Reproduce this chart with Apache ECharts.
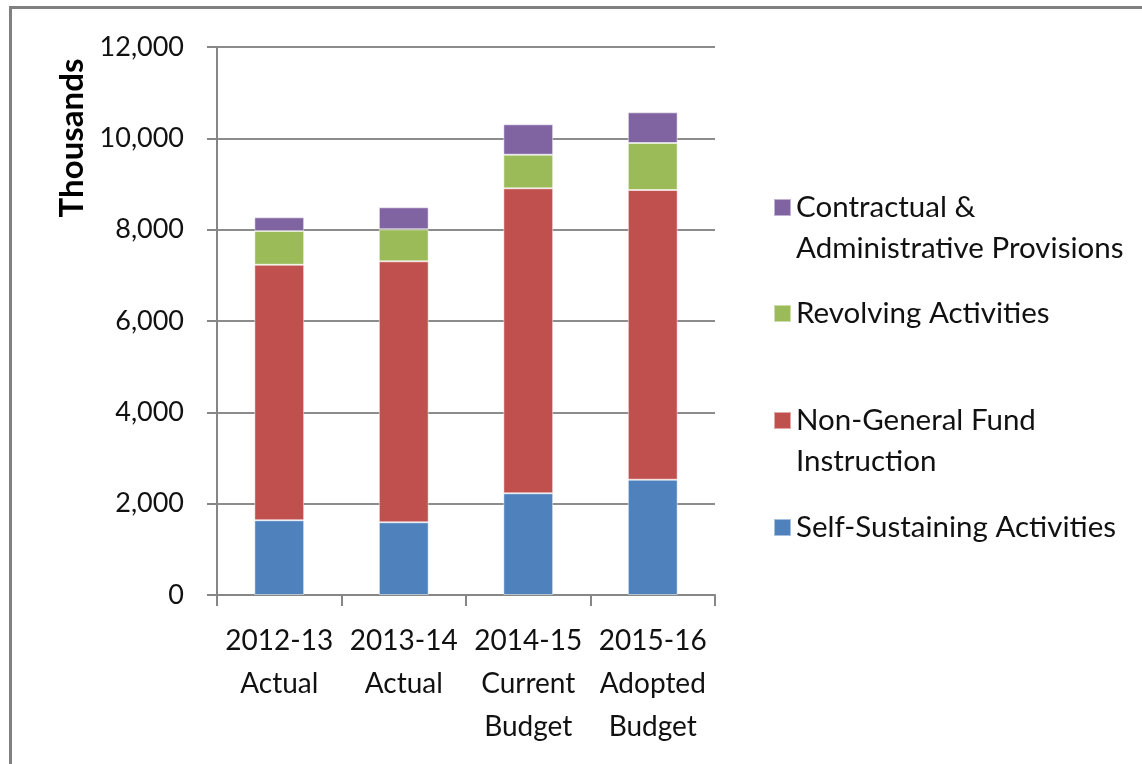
<!DOCTYPE html>
<html>
<head>
<meta charset="utf-8">
<script src="https://cdn.jsdelivr.net/npm/echarts@6/dist/echarts.min.js"></script>
<style>
  html, body { margin: 0; padding: 0; background: #fff; }
  #main { width: 1142px; height: 764px; }
</style>
</head>
<body>
<div id="main"></div>
<script>
// categories and values (thousands)
var years = ['2012-13\nActual', '2013-14\nActual', '2014-15\nCurrent\nBudget', '2015-16\nAdopted\nBudget'];
var selfSustaining = [1636, 1592, 2227, 2525];
var nonGeneralFund = [5596, 5715, 6678, 6343];
var revolving = [738, 700, 736, 1029];
var contractual = [300, 482, 666, 672];
var yTicks = [0, 2000, 4000, 6000, 8000, 10000, 12000];

var FONT = 'Lato';
var names = ['Self-Sustaining Activities', 'Non-General Fund\nInstruction', 'Revolving Activities', 'Contractual &\nAdministrative Provisions'];
var colors = ['#4F81BD', '#C0504D', '#9BBB59', '#8064A2'];
var seriesData = [selfSustaining, nonGeneralFund, revolving, contractual];

var chart = echarts.init(document.getElementById('main'));

// one legend per entry so each sits where Excel put it;
// two-line entries get an empty first line so the swatch lines up with the first real line
var LINE_H = 41;
var legendCenters = [527, 420, 313, 207];
var legends = names.map(function (n, i) {
    var twoLines = n.indexOf('\n') >= 0;
    return {
        data: [n],
        orient: 'vertical',
        left: 773,
        top: legendCenters[i] - 20 - (twoLines ? LINE_H : 0),
        padding: 0,
        itemWidth: 17,
        itemHeight: 17,
        itemGap: 8,
        icon: 'rect',
        selectedMode: false,
        formatter: function (name) {
            return twoLines ? '\n' + name : name;
        },
        textStyle: {
            fontFamily: FONT,
            fontSize: 29.5,
            color: '#111',
            lineHeight: LINE_H
        }
    };
});

var option = {
    animation: false,
    backgroundColor: '#fff',
    color: colors,
    legend: legends,
    grid: {
        left: 217,
        right: 427,
        top: 47,
        bottom: 169
    },
    xAxis: {
        type: 'category',
        data: years,
        axisLine: { lineStyle: { color: '#868686', width: 2 } },
        axisTick: { show: true, length: 11, lineStyle: { color: '#868686', width: 2 } },
        axisLabel: {
            fontFamily: FONT,
            fontSize: 28,
            color: '#111',
            lineHeight: 43,
            margin: 24,
            interval: 0
        }
    },
    yAxis: {
        type: 'value',
        min: 0,
        max: 12000,
        interval: 2000,
        axisLine: { show: true, lineStyle: { color: '#868686', width: 2 } },
        axisTick: { show: true, length: 10, lineStyle: { color: '#868686', width: 2 } },
        splitLine: { lineStyle: { color: '#8c8c8c', width: 2 } },
        axisLabel: {
            fontFamily: FONT,
            fontSize: 27,
            color: '#111',
            margin: 33,
            formatter: function (v) {
                return yTicks.indexOf(v) >= 0 ? v.toLocaleString('en-US') : '';
            }
        }
    },
    graphic: [
        {
            type: 'rect',
            shape: { x: 10.5, y: 7.5, width: 1300, height: 900 },
            style: { fill: 'none', stroke: '#808080', lineWidth: 3 },
            silent: true
        },
        {
            type: 'text',
            x: 72,
            y: 138,
            rotation: Math.PI / 2,
            style: {
                text: 'Thousands',
                fontFamily: FONT,
                fontWeight: 'bold',
                fontSize: 33,
                fill: '#000',
                align: 'center',
                verticalAlign: 'middle'
            }
        }
    ],
    series: names.map(function (n, i) {
        return {
            name: n,
            type: 'bar',
            stack: 'total',
            barWidth: '40%',
            data: seriesData[i],
            itemStyle: {
                color: colors[i],
                borderColor: 'rgba(255,255,255,0.5)',
                borderWidth: 1
            }
        };
    })
};

chart.setOption(option);
</script>
</body>
</html>
